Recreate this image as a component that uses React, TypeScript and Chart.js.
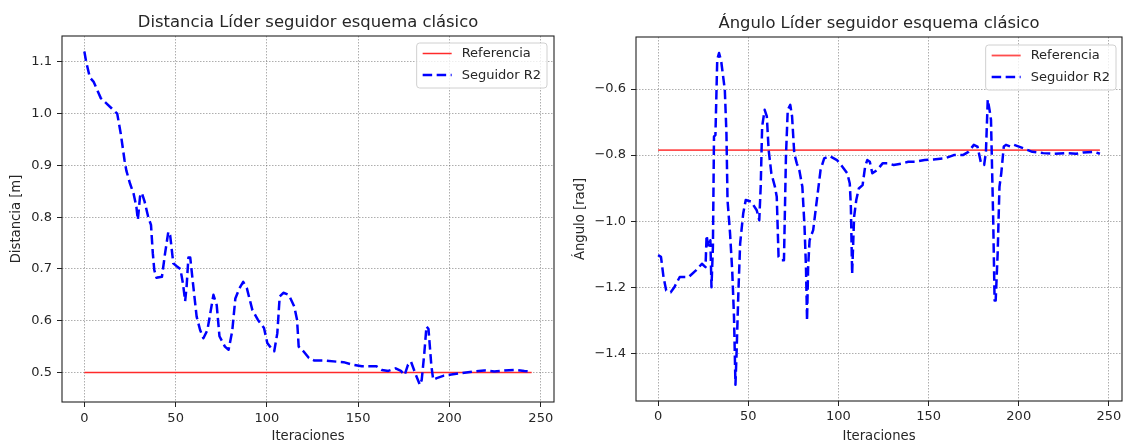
import React, { useEffect, useRef } from "react";
import { Chart, registerables } from "chart.js";

Chart.register(...registerables);

const FONT = "'DejaVu Sans', 'Liberation Sans', sans-serif";

// ---- tick values ----
const xTicks = [0, 50, 100, 150, 200, 250];
const distTicks = [0.5, 0.6, 0.7, 0.8, 0.9, 1.0, 1.1];
const angTicks = [-1.4, -1.2, -1.0, -0.8, -0.6];

// ---- reference values ----
const refDist = 0.5;
const refAng = -0.785;
const refIter = [0, 245];

// ---- distance series (Seguidor R2) ----
const distIter = [0, 1, 3, 5, 9, 15, 18, 20, 22, 23, 25, 27, 28.5, 29.3, 30.5, 31.5, 33, 35, 36.5, 37.5, 38.3, 39.5, 42.5, 44.2, 46, 47, 48.7, 51, 52.6, 54, 55.2, 56, 57, 58, 59.5, 61.5, 63.4, 65.2, 67.4, 69.3, 70.7, 72.5, 74, 77, 79, 81, 82.7, 85, 87, 89, 92, 95, 98.4, 100.2, 102.3, 104, 105.7, 107, 109, 112, 115, 116.5, 117.4, 120, 123, 126, 132, 138, 142, 147, 152, 160, 163, 166.5, 170.5, 173.4, 175.4, 177.3, 178.9, 181.3, 183.8, 184.8, 186.2, 187.4, 188.5, 190.1, 191.1, 193, 197, 201, 207, 213, 219, 224.5, 230, 236, 241, 245];
const distValues = [1.12, 1.10, 1.07, 1.062, 1.03, 1.01, 1.0, 0.96, 0.91, 0.89, 0.865, 0.845, 0.82, 0.795, 0.84, 0.847, 0.83, 0.8, 0.785, 0.73, 0.698, 0.683, 0.685, 0.73, 0.772, 0.765, 0.711, 0.704, 0.70, 0.672, 0.638, 0.666, 0.722, 0.722, 0.672, 0.608, 0.582, 0.566, 0.582, 0.621, 0.65, 0.63, 0.57, 0.55, 0.544, 0.58, 0.643, 0.663, 0.675, 0.663, 0.621, 0.602, 0.586, 0.557, 0.547, 0.541, 0.576, 0.647, 0.654, 0.65, 0.627, 0.602, 0.55, 0.541, 0.528, 0.523, 0.523, 0.521, 0.52, 0.515, 0.512, 0.512, 0.505, 0.503, 0.508, 0.503, 0.495, 0.515, 0.521, 0.498, 0.476, 0.486, 0.537, 0.589, 0.584, 0.512, 0.486, 0.489, 0.494, 0.496, 0.499, 0.502, 0.504, 0.502, 0.504, 0.505, 0.503, 0.502];

// ---- angle series (Seguidor R2) ----
const angIter = [0, 1.6, 3, 4.5, 7, 9, 12, 17, 21, 24.3, 26.3, 26.9, 27.9, 29, 29.6, 30.4, 31, 31.8, 32.8, 33.8, 35, 37, 37.9, 38.5, 39.9, 41.1, 42.1, 42.9, 43.5, 44.5, 45.5, 47.2, 48.6, 51.6, 54.7, 56.1, 56.9, 57.7, 59.1, 60.3, 61.3, 62.8, 64.8, 65.8, 66.8, 68.2, 69.8, 70.9, 71.9, 73.3, 74.3, 75.5, 76.9, 78.3, 80, 81.2, 82, 82.6, 83.2, 84, 86, 88.5, 90.1, 92.1, 95.1, 99.2, 102.2, 104.9, 106.3, 106.9, 107.6, 108.7, 109.9, 111.3, 113.4, 114.8, 116, 117.4, 118.8, 121.5, 124.5, 127.5, 130.6, 135.6, 138.7, 142.7, 147.8, 152.8, 158.9, 164, 169, 172.1, 175.1, 177.1, 179.1, 180.8, 181.8, 182.8, 183.8, 184.6, 185.8, 186.6, 187.2, 188.3, 189.3, 190.3, 191.7, 192.9, 195.3, 197.4, 202.4, 207.5, 213.6, 219.6, 225.7, 231.8, 235.8, 241.9, 245];
const angValues = [-1.103, -1.108, -1.169, -1.21, -1.215, -1.2, -1.169, -1.169, -1.149, -1.129, -1.139, -1.043, -1.078, -1.058, -1.2, -1.078, -0.744, -0.739, -0.511, -0.491, -0.516, -0.602, -0.734, -0.936, -1.037, -1.149, -1.291, -1.495, -1.402, -1.22, -1.068, -0.977, -0.936, -0.941, -0.967, -0.997, -0.896, -0.713, -0.663, -0.683, -0.784, -0.855, -0.896, -0.926, -1.108, -1.118, -1.118, -0.804, -0.663, -0.648, -0.683, -0.794, -0.825, -0.845, -0.896, -1.017, -1.139, -1.301, -1.139, -1.058, -1.027, -0.916, -0.845, -0.81, -0.803, -0.815, -0.835, -0.855, -0.886, -0.956, -1.16, -0.987, -0.936, -0.901, -0.891, -0.835, -0.815, -0.82, -0.855, -0.845, -0.825, -0.825, -0.83, -0.825, -0.82, -0.82, -0.815, -0.813, -0.81, -0.8, -0.8, -0.79, -0.769, -0.774, -0.825, -0.83, -0.79, -0.632, -0.663, -0.693, -0.987, -1.24, -1.24, -1.098, -0.896, -0.855, -0.774, -0.769, -0.774, -0.769, -0.779, -0.79, -0.794, -0.796, -0.794, -0.796, -0.792, -0.79, -0.796];

const TEXT = "#262626";

const decorPlugin = {
  id: "decor",
  afterDraw(chart: any, _args: any, o: any) {
    const { ctx, chartArea: a } = chart;
    ctx.save();
    // frame
    ctx.setLineDash([]);
    ctx.strokeStyle = "#222";
    ctx.lineWidth = 1.1;
    ctx.strokeRect(a.left, a.top, a.right - a.left, a.bottom - a.top);

    const cx = (a.left + a.right) / 2;
    const cy = (a.top + a.bottom) / 2;
    ctx.fillStyle = TEXT;
    // title
    ctx.font = `16.4px ${FONT}`;
    ctx.textAlign = "center";
    ctx.textBaseline = "alphabetic";
    ctx.fillText(o.title, cx, a.top - o.titleGap);
    // x title
    ctx.font = `13.2px ${FONT}`;
    ctx.fillText(o.xTitle, cx, o.xTitleY);
    // y title
    ctx.save();
    ctx.translate(o.yTitleX, cy);
    ctx.rotate(-Math.PI / 2);
    ctx.fillText(o.yTitle, 0, 0);
    ctx.restore();

    // legend
    const dsets = chart.data.datasets;
    ctx.font = `13px ${FONT}`;
    let tw = 0;
    dsets.forEach((d: any) => { tw = Math.max(tw, ctx.measureText(d.label).width); });
    const w = 6 + 29 + 10 + tw + 6;
    const h = 45;
    const x = a.right - o.legendRight - w;
    const y = a.top + o.legendTop;
    ctx.beginPath();
    ctx.roundRect(x, y, w, h, 3);
    ctx.fillStyle = "rgba(255,255,255,0.8)";
    ctx.fill();
    ctx.strokeStyle = "#d0d0d0";
    ctx.lineWidth = 1;
    ctx.stroke();
    dsets.forEach((d: any, i: number) => {
      const yy = y + 10.5 + i * 21.5;
      ctx.beginPath();
      ctx.setLineDash(d.borderDash || []);
      ctx.strokeStyle = d.borderColor;
      ctx.lineWidth = d.borderWidth;
      ctx.moveTo(x + 6, yy);
      ctx.lineTo(x + 35, yy);
      ctx.stroke();
      ctx.setLineDash([]);
      ctx.fillStyle = TEXT;
      ctx.textAlign = "left";
      ctx.textBaseline = "middle";
      ctx.fillText(d.label, x + 45, yy + 0.5);
    });
    ctx.restore();
  },
};

type Spec = {
  iter: number[];
  values: number[];
  ref: number;
  refColor: string;
  refWidth: number;
  yTicks: number[];
  yMin: number;
  yMax: number;
  fmt: (v: number) => string;
  padTop: number;
  padRight: number;
  yWidth: number;
  xHeight: number;
  xPad: number;
  decor: any;
};

function makeConfig(s: Spec): any {
  const gridCommon = {
    color: "rgba(90,90,90,0.55)",
    lineWidth: 0.9,
    drawTicks: true,
    tickLength: 5,
    tickColor: "#222",
    tickWidth: 1,
    tickBorderDash: [],
  };
  return {
    type: "line",
    data: {
      datasets: [
        {
          label: "Referencia",
          data: refIter.map((x) => ({ x, y: s.ref })),
          borderColor: s.refColor,
          borderWidth: s.refWidth,
          pointRadius: 0,
          fill: false,
          order: 1,
        },
        {
          label: "Seguidor R2",
          data: s.iter.map((x, i) => ({ x, y: s.values[i] })),
          borderColor: "#0000ff",
          borderWidth: 2.5,
          borderDash: [9.5, 4.5],
          borderCapStyle: "butt",
          borderJoinStyle: "round",
          pointRadius: 0,
          tension: 0,
          fill: false,
          order: 0,
        },
      ],
    },
    options: {
      responsive: false,
      maintainAspectRatio: false,
      animation: false,
      devicePixelRatio: 1,
      layout: { padding: { left: 0, right: s.padRight, top: s.padTop, bottom: 0 } },
      plugins: {
        legend: { display: false },
        title: { display: false },
        tooltip: { enabled: false },
        decor: s.decor,
      },
      scales: {
        x: {
          type: "linear",
          min: -12.25,
          max: 257.25,
          afterBuildTicks: (sc: any) => { sc.ticks = xTicks.map((v) => ({ value: v })); },
          afterFit: (sc: any) => { sc.height = s.xHeight; },
          grid: gridCommon,
          border: { display: false, dash: [1.5, 1.5] },
          ticks: {
            font: { family: FONT, size: 13 },
            color: TEXT,
            padding: s.xPad,
            maxRotation: 0,
            autoSkip: false,
            callback: (v: number) => String(v),
          },
        },
        y: {
          type: "linear",
          min: s.yMin,
          max: s.yMax,
          afterBuildTicks: (sc: any) => { sc.ticks = s.yTicks.map((v) => ({ value: v })); },
          afterFit: (sc: any) => { sc.width = s.yWidth; },
          grid: gridCommon,
          border: { display: false, dash: [1.5, 1.5] },
          ticks: {
            font: { family: FONT, size: 13 },
            color: TEXT,
            padding: 5,
            autoSkip: false,
            callback: (v: number) => s.fmt(v),
          },
        },
      },
    },
    plugins: [decorPlugin],
  };
}

const minusFmt = (v: number) => (v < 0 ? "\u2212" : "") + Math.abs(v).toFixed(1);

function ChartCanvas({ spec, left }: { spec: Spec; left: number }) {
  const ref = useRef<HTMLCanvasElement | null>(null);
  useEffect(() => {
    if (!ref.current) return;
    const chart = new Chart(ref.current, makeConfig(spec));
    return () => chart.destroy();
  }, []);
  return (
    <canvas
      ref={ref}
      width={563}
      height={443}
      style={{ position: "absolute", left, top: 0, width: 563, height: 443 }}
    />
  );
}

const leftSpec: Spec = {
  iter: distIter,
  values: distValues,
  ref: refDist,
  refColor: "#ff2a2a",
  refWidth: 1.5,
  yTicks: distTicks,
  yMin: 0.443,
  yMax: 1.15,
  fmt: (v) => v.toFixed(1),
  padTop: 36,
  padRight: 9,
  yWidth: 62,
  xHeight: 41,
  xPad: 4,
  decor: {
    title: "Distancia Líder seguidor esquema clásico",
    titleGap: 9.5,
    xTitle: "Iteraciones",
    xTitleY: 440,
    yTitle: "Distancia [m]",
    yTitleX: 20,
    legendRight: 7,
    legendTop: 7,
  },
};

const rightSpec: Spec = {
  iter: angIter,
  values: angValues,
  ref: refAng,
  refColor: "#ff4d4d",
  refWidth: 1.8,
  yTicks: angTicks,
  yMin: -1.5445,
  yMax: -0.4424,
  fmt: minusFmt,
  padTop: 37,
  padRight: 4,
  yWidth: 73,
  xHeight: 42,
  xPad: 3,
  decor: {
    title: "Ángulo Líder seguidor esquema clásico",
    titleGap: 9.5,
    xTitle: "Iteraciones",
    xTitleY: 440,
    yTitle: "Ángulo [rad]",
    yTitleX: 21,
    legendRight: 6,
    legendTop: 8,
  },
};

export default function App() {
  return (
    <div style={{ position: "absolute", left: 0, top: 0, width: 1126, height: 443, background: "#fff", overflow: "hidden" }}>
      <ChartCanvas spec={leftSpec} left={0} />
      <ChartCanvas spec={rightSpec} left={563} />
    </div>
  );
}
